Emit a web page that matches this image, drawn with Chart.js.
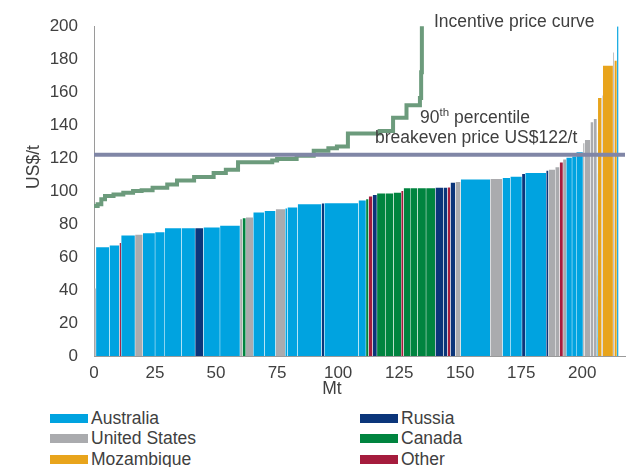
<!DOCTYPE html>
<html>
<head>
<meta charset="utf-8">
<script src="https://cdn.jsdelivr.net/npm/chart.js@4"></script>
<style>
  body { margin: 0; background: #fff; font-family: 'Liberation Sans', Arial, sans-serif; }
  #wrap { position: relative; width: 628px; height: 467px; overflow: hidden; }
  #chart-box { position: absolute; left: 0; top: 0; width: 628px; height: 400px; }
  .lg-item { position: absolute; display: flex; align-items: center; height: 20px; font-size: 17.5px; color: #404040; white-space: nowrap; }
  .lg-box { width: 38px; height: 9px; margin-right: 3px; }
</style>
</head>
<body>
<div id="wrap">
  <div id="chart-box"><canvas id="costCurve"></canvas></div>
  <div id="legend"></div>
</div>
<script>
  // countries and their fill colours
  const countries = ['AU', 'US', 'MZ', 'RU', 'CA', 'OT'];
  const countryNames = ['Australia', 'United States', 'Mozambique', 'Russia', 'Canada', 'Other'];
  const countryColours = ['#00a3e0', '#aaabae', '#e8a41c', '#0b357a', '#00843f', '#a51c3d'];

  // supply stack, cheapest first: country, capacity (Mt), breakeven cost (US$/t)
  const mineCountry = ['US','AU','AU','OT','AU','US','AU','AU','AU','AU','RU','AU','AU','US','CA','US',
    'AU','AU','US','AU','AU','AU','RU','AU','AU','CA','OT','RU','CA','CA','CA','OT','CA','CA','CA','CA',
    'RU','RU','OT','RU','US','AU','US','AU','AU','RU','AU','RU','US','US','OT','US','AU','AU','AU','US',
    'US','US','US','AU','MZ','US','MZ','US','MZ','AU'];
  const mineCapacity = [0.8, 5.5, 4.1, 0.7, 5.7, 3.2, 5.0, 4.0, 6.9, 5.5, 3.4, 6.8, 8.2, 1.0, 1.4, 3.0,
    4.6, 4.6, 3.9, 0.9, 4.2, 9.8, 1.1, 14.0, 3.1, 1.1, 1.6, 1.8, 3.4, 3.4, 3.1, 1.0, 2.7, 3.0, 3.5, 3.8,
    3.4, 1.6, 1.2, 2.0, 2.2, 12.1, 5.0, 3.2, 4.8, 1.3, 8.6, 1.0, 2.7, 1.8, 1.4, 1.3, 2.4, 1.7, 2.8, 0.7,
    2.3, 1.3, 1.4, 0.4, 1.6, 0.4, 4.2, 0.5, 1.1, 0.7];
  const mineCost = [41, 66, 67, 68.5, 73, 73.5, 74.5, 75, 77.5, 77.5, 77.5, 78, 79, 83, 83.5, 84,
    87, 88, 89, 89.5, 90, 92, 92.5, 92.7, 94.3, 95, 96.7, 97.6, 98.6, 98.6, 99, 100, 101.7, 101.7, 101.7, 101.7,
    102, 102, 102.2, 105, 105.5, 107, 107.4, 108, 108.7, 110.4, 111, 112.4, 113, 114.5, 117.3, 119.2, 120.2, 121, 123.5, 129,
    131, 141.8, 143.7, 145.7, 156.5, 158, 176, 184, 179, 200];

  // incentive price curve (step points)
  const curveMt = [0, 1.5, 3, 4.5, 8, 12, 16, 19.5, 24, 30, 34, 41, 49, 54, 59, 73, 75, 83, 90, 96, 99.5,
    104, 117, 122.5, 128, 133.5, 134, 134.3];
  const curvePrice = [91, 92, 95, 97, 98, 99, 100, 100.5, 102, 104, 106.5, 108.5, 111, 113, 117.5, 118.5,
    119.5, 121.5, 124.5, 126, 127, 135, 136.5, 144.5, 152, 156.5, 172, 200];

  const breakevenP90 = 122;
  const xTicks = [0, 25, 50, 75, 100, 125, 150, 175, 200];
  const yTicks = [0, 20, 40, 60, 80, 100, 120, 140, 160, 180, 200];
  const xMax = 217.5;

  const TEXT = '#404040';
  const FONT = "'Liberation Sans', Arial, sans-serif";
  Chart.defaults.font.family = FONT;
  Chart.defaults.font.size = 17;
  Chart.defaults.color = TEXT;

  // one filled step series per country, bars split by null points
  const gap = 0.05;
  const barSets = countries.map((code, ci) => {
    const pts = [];
    let start = 0;
    mineCapacity.forEach((w, i) => {
      const end = start + w;
      if (mineCountry[i] === code) {
        pts.push({ x: start + gap, y: mineCost[i] });
        pts.push({ x: end - gap, y: mineCost[i] });
        pts.push({ x: end, y: null });
      }
      start = end;
    });
    return {
      label: countryNames[ci],
      data: pts,
      backgroundColor: countryColours[ci],
      borderColor: 'rgba(0,0,0,0)',
      borderWidth: 0,
      pointRadius: 0,
      fill: 'origin',
      spanGaps: false,
      order: 3
    };
  });

  const curveSet = {
    label: 'Incentive price curve',
    data: curveMt.map((x, i) => ({ x: x, y: curvePrice[i] })),
    borderColor: '#6c9b7c',
    borderWidth: 4,
    stepped: 'before',
    pointRadius: 0,
    fill: false,
    clip: false,
    order: 2
  };

  const p90Set = {
    label: '90th percentile',
    data: [{ x: 0, y: breakevenP90 }, { x: xMax, y: breakevenP90 }],
    borderColor: '#8086a6',
    borderWidth: 4,
    pointRadius: 0,
    fill: false,
    clip: false,
    order: 1
  };

  // free text: curve name, percentile note, axis titles
  const notes = {
    id: 'notes',
    afterDraw(chart) {
      const ctx = chart.ctx;
      const ys = chart.scales.y;
      const big = '17.5px ' + FONT, small = '11.5px ' + FONT;
      ctx.save();
      ctx.fillStyle = TEXT;
      ctx.textBaseline = 'middle';
      ctx.font = big;

      ctx.textAlign = 'left';
      ctx.fillText('Incentive price curve', 434, 22);

      const yLine = ys.getPixelForValue(breakevenP90);
      ctx.fillText('breakeven price US$122/t', 375, yLine - 17);

      // "90th percentile" with raised suffix
      const a = '90', b = 'th', c = ' percentile';
      const wa = ctx.measureText(a).width, wc = ctx.measureText(c).width;
      ctx.font = small;
      const wb = ctx.measureText(b).width;
      const x0 = 475 - (wa + wb + wc) / 2;
      const yTop = yLine - 37;
      ctx.font = big;
      ctx.fillText(a, x0, yTop);
      ctx.font = small;
      ctx.fillText(b, x0 + wa, yTop - 5);
      ctx.font = big;
      ctx.fillText(c, x0 + wa + wb, yTop);

      ctx.textAlign = 'center';
      ctx.fillText('Mt', 332, 389);

      ctx.translate(34, 167);
      ctx.rotate(-Math.PI / 2);
      ctx.fillText('US$/t', 0, 0);
      ctx.restore();
    }
  };

  new Chart(document.getElementById('costCurve'), {
    type: 'line',
    data: { datasets: [...barSets, curveSet, p90Set] },
    options: {
      responsive: true,
      maintainAspectRatio: false,
      animation: false,
      layout: { padding: { top: 16, right: 3, left: 0, bottom: 0 } },
      plugins: { legend: { display: false }, tooltip: { enabled: false } },
      scales: {
        x: {
          type: 'linear',
          min: 0,
          max: xMax,
          grid: { display: false, drawTicks: false },
          border: { display: true, color: '#9a9a9a', width: 1 },
          ticks: { padding: 7, maxRotation: 0 },
          afterBuildTicks: s => { s.ticks = xTicks.map(v => ({ value: v })); },
          afterFit: s => { s.height = 44; }
        },
        y: {
          min: 0,
          max: 200,
          grid: { display: false, drawTicks: false },
          border: { display: true, color: '#9a9a9a', width: 1 },
          ticks: { padding: 16 },
          afterBuildTicks: s => { s.ticks = yTicks.map(v => ({ value: v })); },
          afterFit: s => { s.width = 94; }
        }
      }
    },
    plugins: [notes]
  });

  // two-column legend
  const legendEl = document.getElementById('legend');
  const legendCols = [['AU', 'US', 'MZ'], ['RU', 'CA', 'OT']];
  const colX = [50, 360];
  const rowY = [408, 428.5, 449];
  legendCols.forEach((col, c) => {
    col.forEach((code, r) => {
      const i = countries.indexOf(code);
      const item = document.createElement('div');
      item.className = 'lg-item';
      item.style.left = colX[c] + 'px';
      item.style.top = rowY[r] + 'px';
      item.innerHTML = '<span class="lg-box" style="background:' + countryColours[i] + '"></span>' + countryNames[i];
      legendEl.appendChild(item);
    });
  });
</script>
</body>
</html>
